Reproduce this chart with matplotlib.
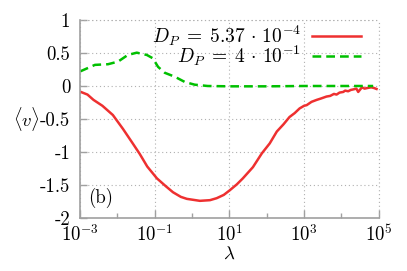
import matplotlib
matplotlib.use('Agg')
import matplotlib.pyplot as plt
import numpy as np

# log10(lambda) positions and <v> values
red_logx = [-3.0, -2.8, -2.64, -2.4, -2.12, -1.85, -1.6, -1.4, -1.2, -0.94,
            -0.7, -0.51, -0.3, -0.14, 0.21, 0.48, 0.66, 0.85, 1.01, 1.2,
            1.36, 1.63, 1.87, 2.08, 2.27, 2.45, 2.61, 2.75, 2.88, 3.0,
            3.07, 3.2, 3.34, 3.45, 3.5, 3.6, 3.7, 3.8, 3.87, 3.95,
            4.05, 4.1, 4.18, 4.25, 4.33, 4.4, 4.45, 4.55, 4.62, 4.7, 4.8, 4.87, 4.94]
red_v = [-0.085, -0.13, -0.21, -0.30, -0.44, -0.65, -0.86, -1.03, -1.22, -1.40,
         -1.52, -1.61, -1.68, -1.71, -1.74, -1.73, -1.70, -1.65, -1.58, -1.49,
         -1.40, -1.23, -1.02, -0.87, -0.69, -0.58, -0.47, -0.41, -0.34, -0.30,
         -0.29, -0.24, -0.21, -0.19, -0.18, -0.16, -0.15, -0.12, -0.13, -0.10,
         -0.09, -0.07, -0.08, -0.06, -0.05, -0.04, -0.09, -0.02, -0.04, -0.03, -0.02, -0.03, -0.045]

green_logx = [-3.0, -2.6, -2.25, -1.98, -1.72, -1.48, -1.21, -1.05, -0.91, -0.73,
              -0.46, -0.19, 0.07, 0.42, 1.0, 2.0, 3.0, 4.0, 4.85]
green_v = [0.22, 0.32, 0.33, 0.37, 0.47, 0.505, 0.47, 0.42, 0.29, 0.20,
           0.14, 0.06, 0.02, 0.0, -0.005, -0.005, 0.0, 0.0, 0.0]

xticks = [1e-3, 1e-1, 1e1, 1e3, 1e5]
xticklabels = ['$10^{-3}$', '$10^{-1}$', '$10^{1}$', '$10^{3}$', '$10^{5}$']
xminor = [1e-2, 1e0, 1e2, 1e4]
yticks = [-2, -1.5, -1, -0.5, 0, 0.5, 1]
yticklabels = ['-2', '-1.5', '-1', '-0.5', '0', '0.5', '1']

plt.rcParams['font.family'] = 'cmr10'
plt.rcParams['mathtext.fontset'] = 'cm'
plt.rcParams['axes.unicode_minus'] = False
plt.rcParams['font.size'] = 13.5

fig = plt.figure(figsize=(4.07, 2.71), dpi=100)
ax = fig.add_axes([0.1966, 0.1956, 0.7340, 0.7306])

ax.plot(10.0 ** np.array(red_logx), red_v, color='#ee3030', lw=1.8,
        label=r'$D_P\;=\;5.37\,\cdot\,10^{-4}$')
ax.plot(10.0 ** np.array(green_logx), green_v, color='#00c000', lw=1.8,
        dashes=(3.5, 2.0), label=r'$D_P\;=\;4\,\cdot\,10^{-1}$')

ax.set_xscale('log')
ax.set_xlim(1e-3, 1e5)
ax.set_ylim(-2, 1)
ax.set_xticks(xticks)
ax.set_xticklabels(xticklabels)
ax.set_xticks(xminor, minor=True)
ax.set_xticklabels([''] * len(xminor), minor=True)
ax.set_yticks(yticks)
ax.set_yticklabels(yticklabels)

ax.grid(True, which='major', linestyle=(0, (1, 2.5)), color='#b0b0b0', lw=0.8)
for s in ['top', 'right']:
    ax.spines[s].set_visible(False)
for s in ['left', 'bottom']:
    ax.spines[s].set_color('#a0a0a0')
    ax.spines[s].set_linewidth(1.2)
# gnuplot-like dotted border on top/right
ax.axhline(1, color='#b0b0b0', lw=0.8, linestyle=(0, (1, 2.5)), clip_on=False)
ax.axvline(1e5, color='#b0b0b0', lw=0.8, linestyle=(0, (1, 2.5)), clip_on=False)

ax.tick_params(which='major', direction='in', length=5, width=1, color='#a0a0a0', pad=7)
ax.tick_params(axis='x', which='major', length=6, pad=4)
ax.tick_params(which='minor', direction='in', length=3.5, width=1, color='#a0a0a0')
ax.tick_params(axis='y', which='minor', left=False)

ax.set_xlabel(r'$\lambda$', labelpad=0)
ax.set_ylabel(r'$\langle v\rangle$', rotation=0, labelpad=10, va='center')

ax.text(0.027, 0.10, '(b)', transform=ax.transAxes, ha='left', va='center')

leg = ax.legend(loc='upper right', frameon=False, markerfirst=False,
                handlelength=2.5, handletextpad=0.55, labelspacing=-0.25,
                borderaxespad=0.0, bbox_to_anchor=(0.965, 1.02),
                fontsize=14)
for t in leg.get_texts():
    t.set_ha('right')

fig.savefig('out.png', dpi=100)
